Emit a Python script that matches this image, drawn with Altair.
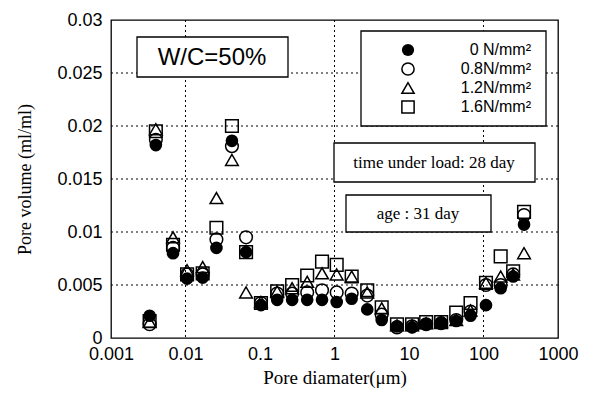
import altair as alt
import pandas as pd

series = ["0 N/mm²", "0.8N/mm²", "1.2N/mm²", "1.6N/mm²"]
diam = [0.0033, 0.004, 0.0068, 0.0105, 0.017, 0.026, 0.042, 0.065, 0.103, 0.17,
        0.27, 0.43, 0.68, 1.07, 1.7, 2.75, 4.3, 6.9, 11, 17, 27, 43, 67, 108, 170, 250, 350]
v_00 = [0.0021, 0.0182, 0.0080, 0.0056, 0.0057, 0.0085, 0.0186, 0.0081, 0.0031, 0.0036,
        0.0036, 0.0036, 0.0036, 0.0034, 0.0037, 0.0027, 0.0017, 0.0011, 0.0010, 0.0013,
        0.0014, 0.0016, 0.0021, 0.0031, 0.0047, 0.0058, 0.0107]
v_08 = [0.0013, 0.0187, 0.0085, 0.0060, 0.0060, 0.0093, 0.0181, 0.0095, 0.0033, 0.0042,
        0.0042, 0.0043, 0.0045, 0.0043, 0.0042, 0.0040, 0.0022, 0.0010, 0.0011, 0.0013,
        0.0014, 0.0017, 0.0025, 0.0050, 0.0050, 0.0060, 0.0116]
v_12 = [0.0015, 0.0197, 0.0095, 0.0064, 0.0067, 0.0132, 0.0168, 0.0043, 0.0034, 0.0044,
        0.0047, 0.0053, 0.0061, 0.0060, 0.0058, 0.0043, 0.0028, 0.0012, 0.0012, 0.0014,
        0.0015, 0.0017, 0.0026, 0.0052, 0.0058, 0.0060, 0.0080]
v_16 = [0.0016, 0.0195, 0.0088, 0.0060, 0.0061, 0.0104, 0.0200, 0.0081, 0.0033, 0.0044,
        0.0050, 0.0059, 0.0072, 0.0069, 0.0058, 0.0045, 0.0029, 0.0013, 0.0013, 0.0015,
        0.0015, 0.0024, 0.0033, 0.0052, 0.0077, 0.0063, 0.0119]

x_major = [0.001, 0.01, 0.1, 1, 10, 100, 1000]
y_major = [0, 0.005, 0.01, 0.015, 0.02, 0.025, 0.03]
grid_x = [0.01, 1, 100]
grid_y = [0.005, 0.01, 0.015, 0.02, 0.025]

W, H = 447, 318
XMIN, XMAX, YMIN, YMAX = 0.001, 1000, 0, 0.03

rows = []
for s, vals in zip(series, [v_00, v_08, v_12, v_16]):
    for d, v in zip(diam, vals):
        rows.append({"d": d, "v": v, "s": s})
df = pd.DataFrame(rows)

xscale = alt.Scale(type="log", domain=[XMIN, XMAX], nice=False)
yscale = alt.Scale(domain=[YMIN, YMAX], nice=False, zero=False)

xaxis = alt.Axis(values=x_major, format="~g", title="Pore diamater(μm)", ticks=False,
                 domain=False, grid=False, labelFlush=False,
                 labelFont="Liberation Sans", labelFontSize=18,
                 titleFont="Liberation Serif", titleFontSize=19, titleFontWeight="normal",
                 labelPadding=7, titlePadding=5, labelColor="black", titleColor="black")
yaxis = alt.Axis(values=y_major, format="~g", title="Pore volume (ml/ml)", ticks=False,
                 domain=False, grid=False, labelFlush=False,
                 labelFont="Liberation Sans", labelFontSize=18,
                 titleFont="Liberation Serif", titleFontSize=18, titleFontWeight="normal",
                 labelPadding=9, titlePadding=22, labelColor="black", titleColor="black")

dummy = pd.DataFrame({"a": [0]})
layers = []

# grid (carries the axes)
layers.append(alt.Chart(pd.DataFrame({"d": grid_x})).mark_rule(
    color="black", strokeWidth=1, strokeDash=[2, 3]).encode(
    x=alt.X("d:Q", scale=xscale, axis=xaxis)))
layers.append(alt.Chart(pd.DataFrame({"v": grid_y})).mark_rule(
    color="black", strokeWidth=1, strokeDash=[2, 3]).encode(
    y=alt.Y("v:Q", scale=yscale, axis=yaxis)))

# annotation boxes
def box(x1, x2, y1, y2):
    return alt.Chart(dummy).mark_rect(fill="white", stroke="black", strokeWidth=1.3).encode(
        x=alt.value(x1), x2=alt.value(x2), y=alt.value(y1), y2=alt.value(y2))

def label(x, y, t, font, size, align="center"):
    return alt.Chart(dummy).mark_text(font=font, fontSize=size, align=align,
                                      baseline="middle", color="black").encode(
        x=alt.value(x), y=alt.value(y), text=alt.value(t))

layers.append(box(26, 177, 17, 57))
layers.append(label(101, 38, "W/C=50%", "Liberation Sans", 24))
layers.append(box(223, 424, 123, 162))
layers.append(label(323, 143, "time under load: 28 day", "Liberation Serif", 17))
layers.append(box(235, 380, 175, 212))
layers.append(label(307, 194, "age : 31 day", "Liberation Serif", 17))

# points
filled = alt.Chart(df[df.s == series[0]]).mark_point(
    filled=True, size=160, color="black", opacity=1).encode(
    x=alt.X("d:Q", scale=xscale), y=alt.Y("v:Q", scale=yscale), shape=alt.value("circle"))
opened = alt.Chart(df[df.s != series[0]]).mark_point(
    filled=False, size=160, color="black", strokeWidth=1.5, opacity=1).encode(
    x=alt.X("d:Q", scale=xscale), y=alt.Y("v:Q", scale=yscale),
    shape=alt.Shape("s:N", scale=alt.Scale(domain=series[1:],
                                          range=["circle", "triangle-up", "square"]),
                    legend=None))
layers += [filled, opened]

# legend
layers.append(box(250, 435, 11, 106))
shapes = ["circle", "circle", "triangle-up", "square"]
for i, (s, shp) in enumerate(zip(series, shapes)):
    ly = 30 + 19 * i
    layers.append(alt.Chart(dummy).mark_point(
        filled=(i == 0), size=150, color="black", strokeWidth=1.5, opacity=1).encode(
        x=alt.value(297), y=alt.value(ly), shape=alt.value(shp)))
    layers.append(label(420, ly, s, "Liberation Sans", 16, align="right"))

chart = alt.layer(*layers).properties(
    width=W, height=H, padding={"left": 8, "top": 3, "right": 2, "bottom": 5},
    background="white"
).configure_view(stroke="black", strokeWidth=1.3)

chart.save("out.html", embed_options={"renderer": "svg", "actions": False})
